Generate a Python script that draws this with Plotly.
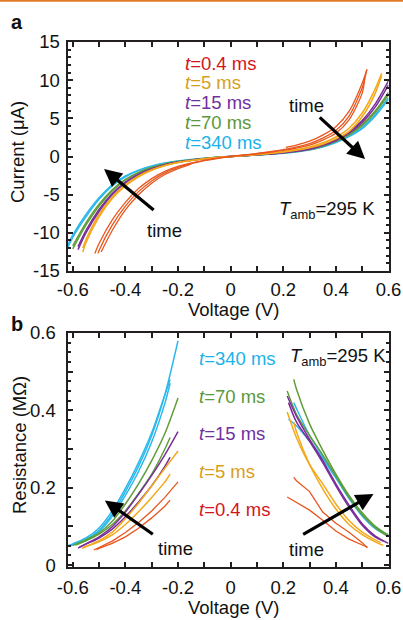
import plotly.graph_objects as go

# ---------------- Panel a: I-V curves (V in volts, I in microamps) ----------------
va_cyan = [-0.62, -0.6, -0.55, -0.5, -0.45, -0.4, -0.35, -0.3, -0.25, -0.2, -0.1, 0, 0.1, 0.2, 0.3, 0.35, 0.4, 0.45, 0.5, 0.55, 0.6]
ia_cyan1 = [-12.0, -10.6, -7.9, -5.6, -3.85, -2.65, -1.85, -1.3, -0.9, -0.62, -0.25, 0, 0.2, 0.45, 0.9, 1.3, 1.9, 2.7, 3.8, 5.5, 7.7]
ia_cyan2 = [-11.7, -10.3, -7.6, -5.4, -3.7, -2.55, -1.78, -1.25, -0.86, -0.6, -0.24, 0, 0.2, 0.43, 0.86, 1.24, 1.82, 2.6, 3.65, 5.3, 7.5]

va_green = [-0.6, -0.55, -0.5, -0.45, -0.4, -0.35, -0.3, -0.25, -0.2, -0.1, 0, 0.1, 0.2, 0.3, 0.35, 0.4, 0.45, 0.5, 0.55, 0.6]
ia_green1 = [-12.1, -9.0, -6.5, -4.5, -3.1, -2.15, -1.5, -1.0, -0.7, -0.27, 0, 0.22, 0.5, 0.95, 1.4, 2.05, 2.95, 4.2, 6.0, 8.4]
ia_green2 = [-11.7, -8.7, -6.25, -4.35, -3.0, -2.08, -1.45, -0.97, -0.67, -0.26, 0, 0.21, 0.48, 0.92, 1.35, 1.98, 2.85, 4.05, 5.8, 8.1]

va_purple = [-0.58, -0.55, -0.5, -0.45, -0.4, -0.35, -0.3, -0.25, -0.2, -0.1, 0, 0.1, 0.2, 0.3, 0.35, 0.4, 0.45, 0.5, 0.55, 0.6]
ia_purple1 = [-12.2, -10.0, -7.2, -5.0, -3.45, -2.4, -1.65, -1.1, -0.75, -0.29, 0, 0.23, 0.52, 1.0, 1.5, 2.2, 3.2, 4.7, 6.9, 9.9]
ia_purple2 = [-11.8, -9.7, -6.95, -4.85, -3.35, -2.32, -1.6, -1.07, -0.72, -0.28, 0, 0.22, 0.5, 0.96, 1.42, 2.1, 3.05, 4.45, 6.5, 9.4]

va_yellow = [-0.562, -0.55, -0.5, -0.45, -0.4, -0.35, -0.3, -0.25, -0.2, -0.1, 0, 0.1, 0.2, 0.3, 0.35, 0.4, 0.45, 0.5, 0.55, 0.574]
ia_yellow1 = [-12.5, -11.3, -7.9, -5.5, -3.85, -2.65, -1.8, -1.2, -0.8, -0.31, 0, 0.25, 0.58, 1.15, 1.6, 2.3, 3.3, 5.2, 8.3, 10.6]
ia_yellow2 = [-12.0, -10.9, -7.6, -5.3, -3.7, -2.55, -1.74, -1.16, -0.78, -0.3, 0, 0.26, 0.62, 1.25, 1.8, 2.55, 3.7, 5.7, 8.9, 10.9]

va_red1 = [-0.516, -0.5, -0.45, -0.4, -0.35, -0.3, -0.25, -0.2, -0.1, 0, 0.1, 0.2, 0.3, 0.35, 0.4, 0.45, 0.5, 0.518]
ia_red1 = [-12.7, -11.4, -8.3, -6.0, -4.2, -2.9, -1.95, -1.3, -0.5, 0, 0.4, 0.9, 1.7, 2.4, 3.4, 5.3, 9.0, 11.4]
va_red2 = [-0.504, -0.5, -0.45, -0.4, -0.35, -0.3, -0.25, -0.2, -0.1, 0, 0.1, 0.2, 0.3, 0.35, 0.4, 0.45, 0.5, 0.51]
ia_red2 = [-12.7, -12.3, -9.0, -6.5, -4.6, -3.2, -2.15, -1.44, -0.55, 0, 0.36, 0.8, 1.5, 2.15, 3.05, 4.8, 8.3, 10.3]
va_red3 = [0.21, 0.25, 0.3, 0.35, 0.4, 0.45, 0.5, 0.518]
ia_red3 = [1.2, 1.5, 2.0, 2.8, 3.9, 5.9, 9.6, 11.4]
va_red4 = [-0.492, -0.45, -0.4, -0.35, -0.3, -0.25, -0.2, -0.15]
ia_red4 = [-12.5, -9.7, -7.0, -5.0, -3.5, -2.36, -1.58, -1.0]

# ---------------- Panel b: resistance (MOhm) ----------------
vb_cyan_l1 = [-0.62, -0.55, -0.5, -0.45, -0.4, -0.35, -0.3, -0.25, -0.2]
rb_cyan_l1 = [0.05, 0.066, 0.09, 0.132, 0.19, 0.255, 0.335, 0.44, 0.58]
vb_cyan_l2 = [-0.61, -0.55, -0.5, -0.45, -0.4, -0.35, -0.3, -0.25, -0.23]
rb_cyan_l2 = [0.05, 0.064, 0.087, 0.126, 0.18, 0.242, 0.318, 0.418, 0.47]
vb_cyan_l3 = [-0.6, -0.55, -0.5, -0.45, -0.4, -0.35, -0.3, -0.25, -0.23]
rb_cyan_l3 = [0.055, 0.07, 0.096, 0.14, 0.198, 0.265, 0.342, 0.44, 0.48]
vb_cyan_r1 = [0.22, 0.25, 0.3, 0.35, 0.4, 0.45, 0.5, 0.55, 0.6]
rb_cyan_r1 = [0.377, 0.36, 0.32, 0.275, 0.225, 0.172, 0.127, 0.094, 0.075]
vb_cyan_r2 = [0.24, 0.25, 0.3, 0.35, 0.4, 0.45, 0.5, 0.55, 0.6]
rb_cyan_r2 = [0.42, 0.405, 0.335, 0.28, 0.23, 0.177, 0.13, 0.097, 0.078]

vb_green_l1 = [-0.6, -0.55, -0.5, -0.45, -0.4, -0.35, -0.3, -0.25, -0.2]
rb_green_l1 = [0.051, 0.065, 0.083, 0.113, 0.158, 0.21, 0.27, 0.34, 0.432]
vb_green_l2 = [-0.59, -0.55, -0.5, -0.45, -0.4, -0.35, -0.3, -0.25, -0.23]
rb_green_l2 = [0.052, 0.063, 0.08, 0.105, 0.14, 0.185, 0.235, 0.3, 0.33]
vb_green_r1 = [0.24, 0.25, 0.3, 0.35, 0.4, 0.45, 0.5, 0.55, 0.6]
rb_green_r1 = [0.48, 0.455, 0.365, 0.297, 0.235, 0.18, 0.135, 0.1, 0.077]
vb_green_r2 = [0.215, 0.25, 0.3, 0.35, 0.4, 0.45, 0.5, 0.55, 0.6]
rb_green_r2 = [0.45, 0.39, 0.335, 0.285, 0.23, 0.175, 0.13, 0.097, 0.073]

vb_purple_l1 = [-0.58, -0.55, -0.5, -0.45, -0.4, -0.35, -0.3, -0.25, -0.2]
rb_purple_l1 = [0.044, 0.055, 0.073, 0.099, 0.137, 0.183, 0.232, 0.285, 0.345]
vb_purple_l2 = [-0.575, -0.55, -0.5, -0.45, -0.4, -0.35, -0.3, -0.25, -0.23]
rb_purple_l2 = [0.046, 0.054, 0.07, 0.093, 0.125, 0.163, 0.205, 0.255, 0.279]
vb_purple_r1 = [0.215, 0.25, 0.3, 0.35, 0.4, 0.45, 0.5, 0.55, 0.6]
rb_purple_r1 = [0.437, 0.385, 0.325, 0.27, 0.21, 0.155, 0.107, 0.075, 0.056]
vb_purple_r2 = [0.22, 0.25, 0.3, 0.35, 0.4, 0.45, 0.5, 0.55, 0.58]
rb_purple_r2 = [0.42, 0.37, 0.32, 0.265, 0.205, 0.15, 0.103, 0.072, 0.062]

vb_yellow_l1 = [-0.565, -0.55, -0.5, -0.45, -0.4, -0.35, -0.3, -0.25, -0.2]
rb_yellow_l1 = [0.043, 0.048, 0.063, 0.085, 0.12, 0.16, 0.205, 0.25, 0.295]
vb_yellow_l2 = [-0.56, -0.55, -0.5, -0.45, -0.4, -0.35, -0.3, -0.25, -0.23]
rb_yellow_l2 = [0.045, 0.048, 0.06, 0.078, 0.105, 0.138, 0.175, 0.215, 0.235]
vb_yellow_r1 = [0.215, 0.25, 0.3, 0.35, 0.4, 0.45, 0.5, 0.55, 0.57]
rb_yellow_r1 = [0.396, 0.33, 0.26, 0.21, 0.158, 0.115, 0.085, 0.065, 0.058]
vb_yellow_r2 = [0.24, 0.25, 0.3, 0.35, 0.4, 0.45, 0.5, 0.55, 0.58]
rb_yellow_r2 = [0.369, 0.345, 0.26, 0.197, 0.145, 0.105, 0.079, 0.06, 0.051]

vb_red_l1 = [-0.52, -0.5, -0.45, -0.4, -0.35, -0.3, -0.25, -0.2]
rb_red_l1 = [0.039, 0.045, 0.062, 0.084, 0.11, 0.14, 0.175, 0.215]
vb_red_l2 = [-0.51, -0.5, -0.45, -0.4, -0.35, -0.3, -0.25, -0.23]
rb_red_l2 = [0.04, 0.043, 0.056, 0.073, 0.095, 0.122, 0.152, 0.168]
vb_red_r1 = [0.24, 0.25, 0.3, 0.35, 0.4, 0.45, 0.5, 0.52]
rb_red_r1 = [0.227, 0.218, 0.19, 0.137, 0.108, 0.085, 0.058, 0.045]
vb_red_r2 = [0.215, 0.25, 0.3, 0.35, 0.4, 0.45, 0.5, 0.52]
rb_red_r2 = [0.176, 0.162, 0.142, 0.116, 0.088, 0.067, 0.053, 0.046]

legend_labels = ["0.4 ms", "5 ms", "15 ms", "70 ms", "340 ms"]

# ---------------- styling ----------------
LINE = {"red": "#E8561E", "yellow": "#F3A81A", "purple": "#7A2E9A", "green": "#5F9E3A", "cyan": "#2DB8EC"}
LABEL = {"red": "#D4141C", "yellow": "#D8A01A", "purple": "#7030A0", "green": "#5A983A", "cyan": "#1AB2EA"}
FONT = "Liberation Sans, Arial, sans-serif"
W, H = 403, 620

fig = go.Figure()

def add(x, y, c, ax, shape="spline", width=1.5):
    fig.add_trace(go.Scatter(x=x, y=y, mode="lines", xaxis=ax[0], yaxis=ax[1],
                             line=dict(color=LINE[c], width=width, shape=shape, smoothing=0.8),
                             showlegend=False, hoverinfo="skip"))

A = ("x", "y")
B = ("x2", "y2")
# panel a
for v, i1, i2, c in [(va_cyan, ia_cyan1, ia_cyan2, "cyan"), (va_green, ia_green1, ia_green2, "green"),
                     (va_purple, ia_purple1, ia_purple2, "purple"), (va_yellow, ia_yellow1, ia_yellow2, "yellow")]:
    add(v, i1, c, A)
    add(v, i2, c, A)
for v, i in [(va_red1, ia_red1), (va_red2, ia_red2), (va_red3, ia_red3), (va_red4, ia_red4)]:
    add(v, i, "red", A, width=1.3)

# panel b
for x, y, c in [(vb_cyan_l1, rb_cyan_l1, "cyan"), (vb_cyan_l2, rb_cyan_l2, "cyan"), (vb_cyan_l3, rb_cyan_l3, "cyan"),
                (vb_cyan_r1, rb_cyan_r1, "cyan"), (vb_cyan_r2, rb_cyan_r2, "cyan"),
                (vb_green_l1, rb_green_l1, "green"), (vb_green_l2, rb_green_l2, "green"),
                (vb_green_r1, rb_green_r1, "green"), (vb_green_r2, rb_green_r2, "green"),
                (vb_purple_l1, rb_purple_l1, "purple"), (vb_purple_l2, rb_purple_l2, "purple"),
                (vb_purple_r1, rb_purple_r1, "purple"), (vb_purple_r2, rb_purple_r2, "purple"),
                (vb_yellow_l1, rb_yellow_l1, "yellow"), (vb_yellow_l2, rb_yellow_l2, "yellow"),
                (vb_yellow_r1, rb_yellow_r1, "yellow"), (vb_yellow_r2, rb_yellow_r2, "yellow")]:
    add(x, y, c, B)
for x, y in [(vb_red_l1, rb_red_l1), (vb_red_l2, rb_red_l2), (vb_red_r1, rb_red_r1), (vb_red_r2, rb_red_r2)]:
    add(x, y, "red", B, shape="linear", width=1.3)

def px(xp):
    return xp / W

def py(yp):
    return 1 - yp / H

axis_common = dict(showline=True, linewidth=2, linecolor="#231F20", mirror="ticks",
                   ticks="inside", ticklen=5, tickwidth=1.5, tickcolor="#231F20",
                   showgrid=False, zeroline=False, automargin=False,
                   tickfont=dict(family=FONT, size=18.5, color="#111"))

xdom = [px(67.5), px(388.5)]
fig.update_layout(
    width=W, height=H, margin=dict(l=0, r=0, t=0, b=0, pad=0, autoexpand=False),
    autosize=False,
    paper_bgcolor="white", plot_bgcolor="white",
    xaxis=dict(domain=xdom, anchor="y", range=[-0.62, 0.6], tickvals=[-0.6, -0.4, -0.2, 0, 0.2, 0.4, 0.6],
               ticktext=["-0.6", "-0.4", "-0.2", "0", "0.2", "0.4", "0.6"],
               minor=dict(dtick=0.1, ticklen=5, ticks="inside", tickcolor="#231F20"), ticklabelstandoff=1, **axis_common),
    yaxis=dict(domain=[py(271), py(42)], anchor="x", range=[-15, 15], tickvals=[-15, -10, -5, 0, 5, 10, 15],
               ticktext=["-15", "-10", "-5", "0", "5", "10", "15"],
               minor=dict(dtick=1, ticklen=3, ticks="inside", tickcolor="#231F20"), ticklabelstandoff=2, **axis_common),
    xaxis2=dict(domain=xdom, anchor="y2", range=[-0.62, 0.6], tickvals=[-0.6, -0.4, -0.2, 0, 0.2, 0.4, 0.6],
                ticktext=["-0.6", "-0.4", "-0.2", "0", "0.2", "0.4", "0.6"],
                minor=dict(dtick=0.1, ticklen=5, ticks="inside", tickcolor="#231F20"), ticklabelstandoff=3, **axis_common),
    yaxis2=dict(domain=[py(567), py(333)], anchor="x2", range=[-0.005, 0.6],
                tickvals=[0, 0.1, 0.2, 0.3, 0.4, 0.5, 0.6], ticktext=["0", "", "0.2", "", "0.4", "", "0.6"],
                minor=dict(dtick=0.025, ticklen=3, ticks="inside", tickcolor="#231F20"), ticklabelstandoff=6, **axis_common),
)

ann = []
def text(x, y, s, size=18.5, color="#111", xanchor="center", angle=0, bold=False):
    ann.append(dict(x=px(x), y=py(y), xref="paper", yref="paper", text=("<b>%s</b>" % s) if bold else s,
                    showarrow=False, xanchor=xanchor, yanchor="middle", textangle=angle,
                    font=dict(family=FONT, size=size, color=color)))

# panel letters
text(17, 22, "a", size=20, bold=True)
text(17, 324, "b", size=20, bold=True)
# axis titles
text(18, 152, "Current (μA)", angle=-90)
text(234, 309, "Voltage (V)")
text(19, 445, "Resistance (MΩ)", angle=-90)
text(234, 607, "Voltage (V)")
# legends
cols = ["red", "yellow", "purple", "green", "cyan"]
ya = [63.3, 82.7, 102.3, 122.7, 142.3]
for lab, c, yy in zip(legend_labels, cols, ya):
    text(182.5, yy, "<i>t</i>=" + lab, color=LABEL[c], xanchor="left")
yb = [509, 471.7, 433.3, 396.7, 358.3]
for lab, c, yy in zip(legend_labels, cols, yb):
    text(196.5, yy, "<i>t</i>=" + lab, color=LABEL[c], xanchor="left")
text(276.5, 210, "<i>T</i><sub>amb</sub>=295 K", xanchor="left")
text(288, 357, "<i>T</i><sub>amb</sub>=295 K", xanchor="left")
# "time" labels
text(164, 230, "time")
text(306, 106, "time")
text(175, 548, "time")
text(306, 549, "time")

# arrows (data coordinates)
def arrow(xr, yr, xh, yh, xt, yt):
    ann.append(dict(x=xh, y=yh, ax=xt, ay=yt, xref=xr, yref=yr, axref=xr, ayref=yr, text="",
                    showarrow=True, arrowhead=2, arrowsize=1.1, arrowwidth=3.2, arrowcolor="#000"))

arrow("x", "y", -0.481, -1.64, -0.287, -7.17)
arrow("x", "y", 0.511, -0.34, 0.333, 5.31)
arrow("x2", "y2", -0.478, 0.167, -0.29, 0.077)
arrow("x2", "y2", 0.543, 0.184, 0.27, 0.077)

fig.update_layout(annotations=ann,
                  shapes=[dict(type="line", xref="paper", yref="paper", x0=0, x1=1, y0=py(0.8), y1=py(0.8),
                               line=dict(color="#E07B24", width=2))])

fig.write_html("out.html", config={"responsive": False, "displayModeBar": False})

# remove default page margins so the 403x620 figure fills the window exactly
with open("out.html", encoding="utf-8") as f:
    html = f.read()
html = html.replace("<head>", "<head><style>html,body{margin:0;padding:0;overflow:hidden;}</style>", 1)
with open("out.html", "w", encoding="utf-8") as f:
    f.write(html)
